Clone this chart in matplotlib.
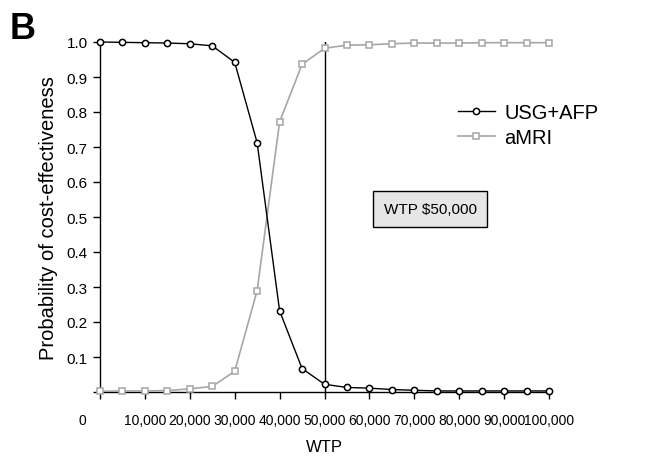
import numpy as np
import matplotlib
matplotlib.use("Agg")
import matplotlib.pyplot as plt
from matplotlib.transforms import ScaledTranslation

plt.rcParams['font.family'] = ['Liberation Sans', 'DejaVu Sans']

# dati
wtp = [0, 5000, 10000, 15000, 20000, 25000, 30000, 35000, 40000, 45000, 50000,
       55000, 60000, 65000, 70000, 75000, 80000, 85000, 90000, 95000, 100000]
usg_afp = [1.0, 0.999, 0.998, 0.997, 0.995, 0.989, 0.942, 0.712, 0.232, 0.067, 0.022,
           0.013, 0.011, 0.007, 0.005, 0.003, 0.003, 0.003, 0.003, 0.003, 0.003]
amri = [0.002, 0.003, 0.003, 0.004, 0.009, 0.016, 0.059, 0.290, 0.772, 0.936, 0.982,
        0.991, 0.992, 0.995, 0.997, 0.997, 0.997, 0.998, 0.998, 0.998, 0.998]
xtick_vals = list(range(0, 100001, 10000))
xtick_labels = ['0', '10,000', '20,000', '30,000', '40,000', '50,000',
                '60,000', '70,000', '80,000', '90,000', '100,000']
ytick_vals = [0, 0.1, 0.2, 0.3, 0.4, 0.5, 0.6, 0.7, 0.8, 0.9, 1.0]
ytick_labels = [''] + ['%.1f' % v for v in ytick_vals[1:]]

fig = plt.figure(figsize=(6.49, 4.60), dpi=100)
ax = fig.add_axes([100/649, 67/460, 449/649, 350/460])

grey = '#a6a6a6'
ax.plot(wtp, usg_afp, '-o', color='black', lw=1.0, ms=4.5, mfc='white',
        mec='black', mew=1.1, clip_on=False, zorder=4, label='USG+AFP')
ax.plot(wtp, amri, '-s', color=grey, lw=1.2, ms=4.0, mfc='white',
        mec=grey, mew=1.1, clip_on=False, zorder=3, label='aMRI')

# linea WTP
ax.plot([50000, 50000], [0, 1.0], color='black', lw=1.0, zorder=2)
ax.text(73500, 0.523, 'WTP $50,000', ha='center', va='center', fontsize=11,
        bbox=dict(boxstyle='square,pad=0.7', fc='#e6e6e6', ec='black', lw=1.0))

ax.set_xlim(0, 100000)
ax.set_ylim(0, 1.0)
ax.set_xticks(xtick_vals)
ax.set_xticklabels(xtick_labels, fontsize=10)
ax.set_yticks(ytick_vals)
ax.set_yticklabels(ytick_labels, fontsize=11)
ax.tick_params(direction='out', length=5, width=1, pad=10, colors='black')
ax.tick_params(axis='y', pad=4)
# l'etichetta "0" è spostata a sinistra
lab0 = ax.xaxis.get_major_ticks()[0].label1
lab0.set_transform(lab0.get_transform() + ScaledTranslation(-18/100, 0, fig.dpi_scale_trans))

for s in ['top', 'right']:
    ax.spines[s].set_visible(False)
for s in ['left', 'bottom']:
    ax.spines[s].set_linewidth(1.0)

ax.set_xlabel('WTP', fontsize=12, labelpad=9)
ax.set_ylabel('Probability of cost-effectiveness', fontsize=14.5, labelpad=6)

ax.legend(loc='upper left', bbox_to_anchor=(0.78, 0.85), frameon=False,
          fontsize=14.5, handlelength=1.8, handletextpad=0.5, labelspacing=0.3,
          borderaxespad=0)

fig.text(10/649, 1 - 39/460, 'B', fontsize=26, fontweight='bold')

fig.savefig('out.png', dpi=100)
